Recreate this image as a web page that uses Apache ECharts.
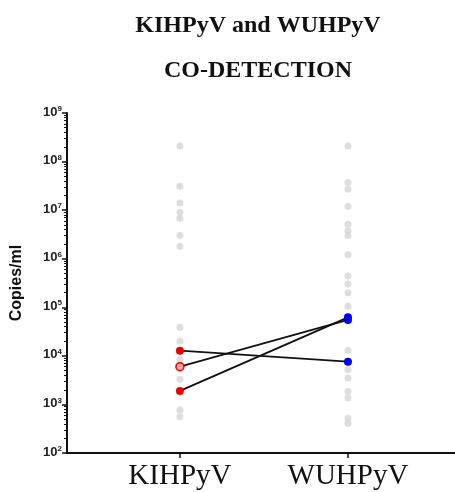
<!DOCTYPE html>
<html>
<head>
<meta charset="utf-8">
<script src="https://cdn.jsdelivr.net/npm/echarts@6/dist/echarts.min.js"></script>
<style>
  html, body { margin: 0; padding: 0; background: #fff; }
  #chart { width: 455px; height: 492px; }
</style>
</head>
<body>
<div id="chart"></div>
<script>
// groups on the x axis
const groups = ['KIHPyV', 'WUHPyV'];
// single detections (grey), copies/ml
const kiGrey = [2.1e8, 3.1e7, 1.4e7, 9e6, 6.8e6, 3e6, 1.8e6, 3.9e4, 2.0e4, 8.3e3, 3.3e3, 7.7e2, 5.6e2];
const wuGrey = [2.1e8, 3.7e7, 2.7e7, 1.2e7, 5.1e6, 3.7e6, 3e6, 1.2e6, 4.4e5, 3e5, 2e5, 1.05e5, 1.3e4, 5.2e3, 3.5e3, 1.85e3, 1.35e3, 5.2e2, 4.1e2];
// co-detections: same sample, KI value -> WU value
const kiPair = [12800, 6000, 1900];
const wuPair = [7600, 55000, 62000];
// decade ticks (exponents) for the y axis
const decades = [2, 3, 4, 5, 6, 7, 8, 9];

// minor ticks 2..9 within each decade, in log10 space
const minorLogs = [];
for (let d = 2; d < 9; d++) {
    for (let k = 2; k <= 9; k++) minorLogs.push(d + Math.log10(k));
}

const chart = echarts.init(document.getElementById('chart'));

const pairSeries = kiPair.map((v, i) => ({
    type: 'line',
    z: 5,
    symbol: 'circle',
    symbolSize: 8,
    lineStyle: { color: '#111', width: 1.8 },
    data: [
        { value: [0, v], itemStyle: i === 1
            ? { color: '#f3a3a3', borderColor: '#e80000', borderWidth: 1.5 }
            : { color: '#f00000' } },
        { value: [1, wuPair[i]], itemStyle: { color: '#0000f0' } }
    ],
    silent: true
}));

const option = {
    animation: false,
    title: {
        text: 'KIHPyV and WUHPyV\nCO-DETECTION',
        left: 258,
        textAlign: 'center',
        top: 3,
        padding: 0,
        textStyle: {
            fontFamily: 'Liberation Serif',
            fontSize: 24,
            fontWeight: 'bold',
            color: '#111',
            lineHeight: 45
        }
    },
    grid: { left: 67, right: 0, top: 113, bottom: 39 },
    xAxis: {
        type: 'value',
        min: -0.672,
        max: 1.637,
        splitLine: { show: false },
        axisLine: { onZero: false, lineStyle: { color: '#111', width: 2 } },
        axisTick: { customValues: [0, 1], length: 5, lineStyle: { color: '#111', width: 1.5 } },
        axisLabel: {
            customValues: [0, 1],
            formatter: v => groups[Math.round(v)],
            margin: 9,
            fontFamily: 'Liberation Serif',
            fontSize: 29,
            color: '#111'
        }
    },
    yAxis: [
        {
            type: 'log',
            logBase: 10,
            min: 100,
            max: 1e9,
            name: 'Copies/ml',
            nameLocation: 'middle',
            nameGap: 42,
            nameTextStyle: { fontFamily: 'Liberation Sans', fontSize: 16, fontWeight: 'bold', color: '#111' },
            splitLine: { show: false },
            axisLine: { show: true, onZero: false, lineStyle: { color: '#111', width: 2 } },
            axisTick: { length: 5, lineStyle: { color: '#111', width: 1.5 } },
            axisLabel: {
                margin: 5,
                padding: [0, 0, 2, 0],
                formatter: v => {
                    const e = Math.round(Math.log10(v));
                    return decades.indexOf(e) >= 0 ? '{b|10}{s|' + e + '}' : '';
                },
                rich: {
                    b: { fontFamily: 'Liberation Sans', fontSize: 13, fontWeight: 'bold', color: '#222', lineHeight: 14 },
                    s: { fontFamily: 'Liberation Sans', fontSize: 8, fontWeight: 'bold', color: '#222', verticalAlign: 'top', lineHeight: 8 }
                }
            }
        },
        {
            type: 'value',
            min: 2,
            max: 9,
            position: 'left',
            splitLine: { show: false },
            axisLine: { show: false, onZero: false },
            axisLabel: { show: false },
            axisTick: { show: true, customValues: minorLogs, length: 3, lineStyle: { color: '#111', width: 1 } }
        }
    ],
    series: [
        {
            type: 'scatter',
            symbolSize: 7,
            itemStyle: { color: '#d6d6d6' },
            data: kiGrey.map(v => [0, v]),
            silent: true
        },
        {
            type: 'scatter',
            symbolSize: 7,
            itemStyle: { color: '#d6d6d6' },
            data: wuGrey.map(v => [1, v]),
            silent: true
        }
    ].concat(pairSeries)
};

chart.setOption(option);
</script>
</body>
</html>
